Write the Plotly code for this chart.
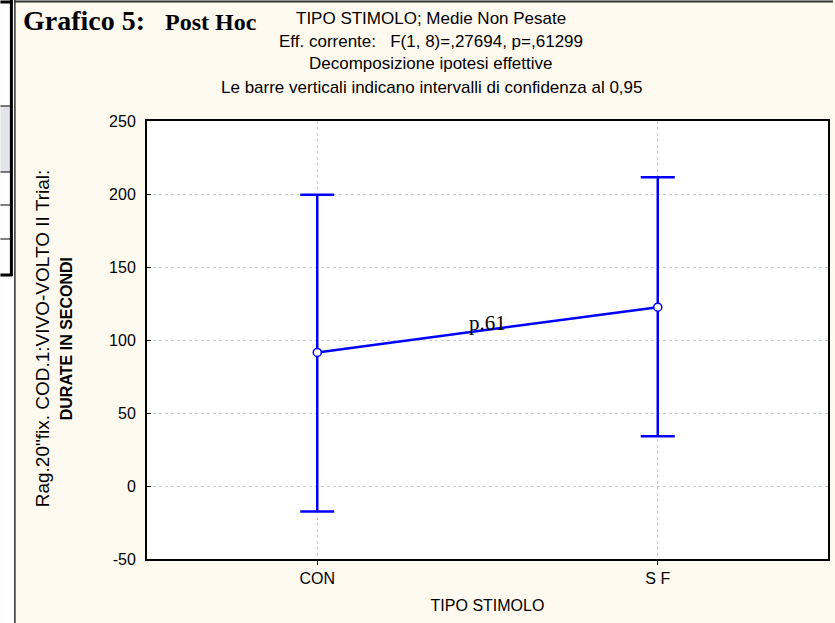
import plotly.graph_objects as go

# ---- data ----
categories = ["CON", "S F"]
means = [91.5, 122.5]
ci_upper = [199.5, 211.5]
ci_lower = [-17.5, 34.0]
y_tick_vals = [-50, 0, 50, 100, 150, 200, 250]
y_tick_text = ["-50", "0", "50", "100", "150", "200", "250"]
p_label = "p.61"

title_main = "Grafico 5:"
title_sub = "Post Hoc"
subtitle_lines = [
    "TIPO STIMOLO; Medie Non Pesate",
    "Eff. corrente:   F(1, 8)=,27694, p=,61299",
    "Decomposizione ipotesi effettive",
    "Le barre verticali indicano intervalli di confidenza al 0,95",
]
x_title = "TIPO STIMOLO"
y_title_1 = "Rag.20\"fix. COD.1:VIVO-VOLTO II Trial:"
y_title_2 = "DURATE IN SECONDI"

# ---- geometry helpers (pixel -> paper) ----
W, H = 835, 623
L, R, T, B = 147, 5, 121, 64
PW, PH = W - L - R, H - T - B


def px(x):
    return (x - L) / PW


def py(y):
    return (H - B - y) / PH


BLUE = "#0000FF"
CREAM = "#FFFAF0"
SANS = "Liberation Sans, Arial, sans-serif"
SERIF = "Liberation Serif, Times New Roman, serif"

fig = go.Figure()
fig.add_trace(go.Scatter(
    x=categories,
    y=means,
    mode="lines+markers",
    line=dict(color=BLUE, width=2.5),
    marker=dict(symbol="circle", size=8, color="white",
                line=dict(color=BLUE, width=1.5)),
    error_y=dict(
        type="data", symmetric=False,
        array=[u - m for u, m in zip(ci_upper, means)],
        arrayminus=[m - lo for m, lo in zip(means, ci_lower)],
        color=BLUE, thickness=2.5, width=17,
    ),
    showlegend=False,
    cliponaxis=False,
))

annotations = []
# title
annotations.append(dict(xref="paper", yref="paper", x=px(21), y=py(21),
                        xanchor="left", yanchor="middle", showarrow=False,
                        text="<b>" + title_main + "</b>",
                        font=dict(family=SERIF, size=28, color="black")))
annotations.append(dict(xref="paper", yref="paper", x=px(163), y=py(22),
                        xanchor="left", yanchor="middle", showarrow=False,
                        text="<b>" + title_sub + "</b>",
                        font=dict(family=SERIF, size=24, color="black")))
# subtitles
for i, line in enumerate(subtitle_lines):
    annotations.append(dict(xref="paper", yref="paper", x=px(432), y=py(18 + 23 * i),
                            xanchor="center", yanchor="middle", showarrow=False,
                            text=line,
                            font=dict(family=SANS, size=17, color="black")))
# y title (two lines)
annotations.append(dict(xref="paper", yref="paper", x=px(42), y=py(338),
                        xanchor="center", yanchor="middle", showarrow=False,
                        textangle=-90, text=y_title_1,
                        font=dict(family=SANS, size=19, color="black")))
annotations.append(dict(xref="paper", yref="paper", x=px(66), y=py(339),
                        xanchor="center", yanchor="middle", showarrow=False,
                        textangle=-90, text="<b>" + y_title_2 + "</b>",
                        font=dict(family=SANS, size=16, color="black")))
# p label
annotations.append(dict(x=0.5, y=(means[0] + means[1]) / 2, xref="x", yref="y",
                        xanchor="center", yanchor="middle", yshift=7,
                        showarrow=False, text=p_label,
                        font=dict(family=SERIF, size=21, color="black")))

shapes = []
# left fragment of a neighbouring table
shapes.append(dict(type="rect", xref="paper", yref="paper",
                   x0=px(0), x1=px(14), y0=py(H), y1=py(0),
                   fillcolor="white", line=dict(width=0), layer="below"))
shapes.append(dict(type="rect", xref="paper", yref="paper",
                   x0=px(0), x1=px(11), y0=py(172), y1=py(106),
                   fillcolor="#E4E4EC", line=dict(width=0), layer="below"))
for yy in [106, 172, 205, 239]:
    shapes.append(dict(type="line", xref="paper", yref="paper",
                       x0=px(0), x1=px(11), y0=py(yy), y1=py(yy),
                       line=dict(color="black", width=1)))
for yy in [2, 275]:
    shapes.append(dict(type="line", xref="paper", yref="paper",
                       x0=px(0), x1=px(12), y0=py(yy), y1=py(yy),
                       line=dict(color="black", width=3)))
shapes.append(dict(type="line", xref="paper", yref="paper",
                   x0=px(11), x1=px(11), y0=py(276), y1=py(0),
                   line=dict(color="black", width=3)))
# panel border
shapes.append(dict(type="line", xref="paper", yref="paper",
                   x0=px(14.5), x1=px(14.5), y0=py(H), y1=py(0),
                   line=dict(color="#303030", width=1.5)))
shapes.append(dict(type="line", xref="paper", yref="paper",
                   x0=px(14), x1=px(W), y0=py(1.5), y1=py(1.5),
                   line=dict(color="#303030", width=2)))

fig.update_layout(
    width=W, height=H,
    margin=dict(l=L, r=R, t=T, b=B, pad=0),
    paper_bgcolor=CREAM,
    plot_bgcolor="white",
    annotations=annotations,
    shapes=shapes,
    xaxis=dict(
        type="category", range=[-0.5, 1.5],
        showline=True, mirror=True, linecolor="black", linewidth=2,
        showgrid=True, gridcolor="#CCCCCC", gridwidth=1, griddash="3px,3px",
        ticks="outside", ticklen=4, tickcolor="black",
        tickfont=dict(family=SANS, size=16, color="black"),
        title=dict(text=x_title, standoff=14,
                   font=dict(family=SANS, size=16, color="black")),
        zeroline=False,
    ),
    yaxis=dict(
        range=[-50, 250], tickvals=y_tick_vals, ticktext=y_tick_text,
        showline=True, mirror=True, linecolor="black", linewidth=2,
        showgrid=True, gridcolor="#CCCCCC", gridwidth=1, griddash="3px,3px",
        ticks="inside", ticklen=4, tickcolor="black",
        ticklabelstandoff=6,
        tickfont=dict(family=SANS, size=16, color="black"),
        zeroline=False,
    ),
)

fig.write_html(
    "out.html",
    config={"displayModeBar": False},
    post_script="document.body.style.margin='0';document.body.style.padding='0';"
                "document.body.style.overflow='hidden';",
)
